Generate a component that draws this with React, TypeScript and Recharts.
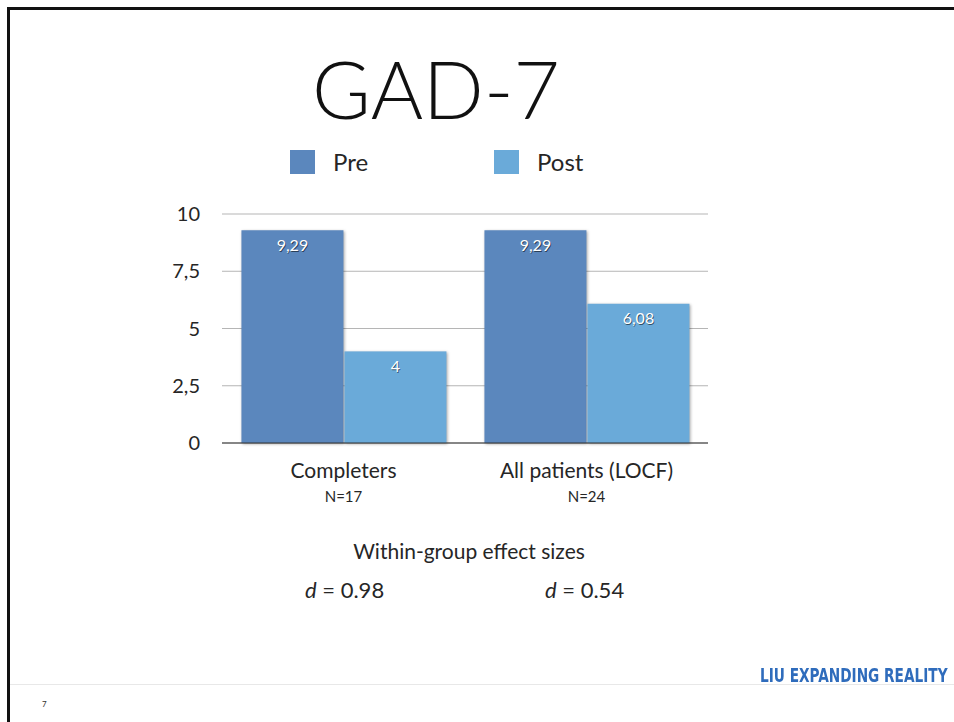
import React from "react";
import {
  BarChart,
  Bar,
  XAxis,
  YAxis,
  CartesianGrid,
  Legend,
  LabelList,
} from "recharts";

// values
const categories = ["Completers", "All patients (LOCF)"];
const sampleSizes = ["N=17", "N=24"];
const seriesNames = ["Pre", "Post"];
const preValues = [9.29, 9.29];
const postValues = [4, 6.08];
const yTicks = [0, 2.5, 5, 7.5, 10];
const effectSizes = ["0.98", "0.54"];

const PRE_COLOR = "#5b87bd";
const POST_COLOR = "#6aaad9";
const FONT = "Lato, 'Open Sans', sans-serif";
const TEXT = "#262626";

const data = categories.map((name, i) => ({
  name,
  Pre: preValues[i],
  Post: postValues[i],
}));

const fmt = (v: number) => String(v).replace(".", ",");

const ShadowBar = (props: any) => {
  const { x, y, width, height, fill } = props;
  if (!height) return null;
  return (
    <rect
      x={x}
      y={y}
      width={width}
      height={height}
      fill={fill}
      style={{ filter: "drop-shadow(1px 1px 1.5px rgba(0,0,0,0.35))" }}
    />
  );
};

const ValueLabel = (props: any) => {
  const { x, y, width, value } = props;
  const cx = x + width / 2;
  const ty = y + 14;
  return (
    <g fontFamily={FONT} fontSize={16} textAnchor="middle">
      <text x={cx + 0.8} y={ty + 1} fill="rgba(0,0,0,0.55)" dominantBaseline="central">
        {fmt(value)}
      </text>
      <text x={cx} y={ty} fill="#fff" dominantBaseline="central">
        {fmt(value)}
      </text>
    </g>
  );
};

const CategoryTick = (props: any) => {
  const { x, y, payload, index } = props;
  return (
    <g fontFamily={FONT} textAnchor="middle" fill={TEXT}>
      <text x={x} y={y + 27} fontSize={21} fill={TEXT}>
        {payload.value}
      </text>
      <text x={x} y={y + 51} fontSize={15} fill={TEXT}>
        {sampleSizes[index]}
      </text>
    </g>
  );
};

const legendX = [290, 494];

const LegendContent = (props: any) => {
  const items = [...(props.payload || [])].sort(
    (a: any, b: any) => seriesNames.indexOf(a.value) - seriesNames.indexOf(b.value)
  );
  return (
    <div style={{ position: "relative", height: 26 }}>
      {items.map((p: any, i: number) => (
        <div
          key={p.value}
          style={{
            position: "absolute",
            left: legendX[i],
            top: 0,
            display: "flex",
            alignItems: "center",
          }}
        >
          <div style={{ width: 25, height: 24, background: p.color }} />
          <span
            style={{
              marginLeft: 18,
              fontFamily: FONT,
              fontSize: 24,
              color: TEXT,
              lineHeight: "24px",
            }}
          >
            {p.value}
          </span>
        </div>
      ))}
    </div>
  );
};

export default function App() {
  return (
    <div
      style={{
        position: "absolute",
        left: 0,
        top: 0,
        width: 954,
        height: 722,
        background: "#fff",
        overflow: "hidden",
        fontFamily: FONT,
        color: TEXT,
      }}
    >
      {/* slide frame */}
      <div style={{ position: "absolute", left: 7, top: 7, width: 947, height: 3, background: "#111" }} />
      <div style={{ position: "absolute", left: 7, top: 7, width: 3, height: 715, background: "#111" }} />

      <div
        style={{
          position: "absolute",
          left: 0,
          width: 872,
          top: 40,
          textAlign: "center",
          fontSize: 80,
          fontWeight: 300,
          lineHeight: "96px",
          color: "#111",
        }}
      >
        GAD-7
      </div>

      <div style={{ position: "absolute", left: 0, top: 130 }}>
        <BarChart
          width={760}
          height={390}
          data={data}
          margin={{ top: 58, right: 52, left: 162, bottom: 17 }}
          barCategoryGap="8%"
          barGap={1}
        >
          <CartesianGrid vertical={false} stroke="#b5b5b5" />
          <XAxis
            dataKey="name"
            axisLine={{ stroke: "#333" }}
            tickLine={false}
            height={60}
            tick={<CategoryTick />}
            interval={0}
          />
          <YAxis
            domain={[0, 10]}
            ticks={yTicks}
            width={60}
            axisLine={false}
            tickLine={false}
            tickMargin={16}
            tickFormatter={fmt}
            tick={{ fontSize: 20, fill: TEXT, fontFamily: FONT }}
          />
          <Legend
            verticalAlign="top"
            content={<LegendContent />}
            wrapperStyle={{ top: 20, left: 0, width: 760 }}
          />
          <Bar dataKey="Pre" fill={PRE_COLOR} shape={<ShadowBar />} isAnimationActive={false}>
            <LabelList dataKey="Pre" content={<ValueLabel />} />
          </Bar>
          <Bar dataKey="Post" fill={POST_COLOR} shape={<ShadowBar />} isAnimationActive={false}>
            <LabelList dataKey="Post" content={<ValueLabel />} />
          </Bar>
        </BarChart>
      </div>

      <div
        style={{
          position: "absolute",
          left: 0,
          width: 938,
          top: 538,
          textAlign: "center",
          fontSize: 21,
        }}
      >
        Within-group effect sizes
      </div>
      {effectSizes.map((d, i) => (
        <div
          key={d}
          style={{
            position: "absolute",
            left: i === 0 ? 305 : 545,
            top: 576,
            fontSize: 22,
          }}
        >
          <i>d</i> = {d}
        </div>
      ))}

      <div style={{ position: "absolute", left: 10, top: 684, width: 944, height: 1, background: "#e8e8e8" }} />
      <div style={{ position: "absolute", left: 42, top: 699, fontSize: 8, color: "#333" }}>7</div>
      <div
        style={{
          position: "absolute",
          left: 760,
          top: 664,
          whiteSpace: "nowrap",
          fontFamily: "'Liberation Sans Narrow', 'DejaVu Sans Condensed', 'Liberation Sans', sans-serif",
          fontWeight: "bold",
          fontSize: 19,
          lineHeight: "22px",
          color: "#2f6cbc",
          transform: "scaleX(0.8)",
          transformOrigin: "left center",
        }}
      >
        LIU EXPANDING REALITY
      </div>
    </div>
  );
}
